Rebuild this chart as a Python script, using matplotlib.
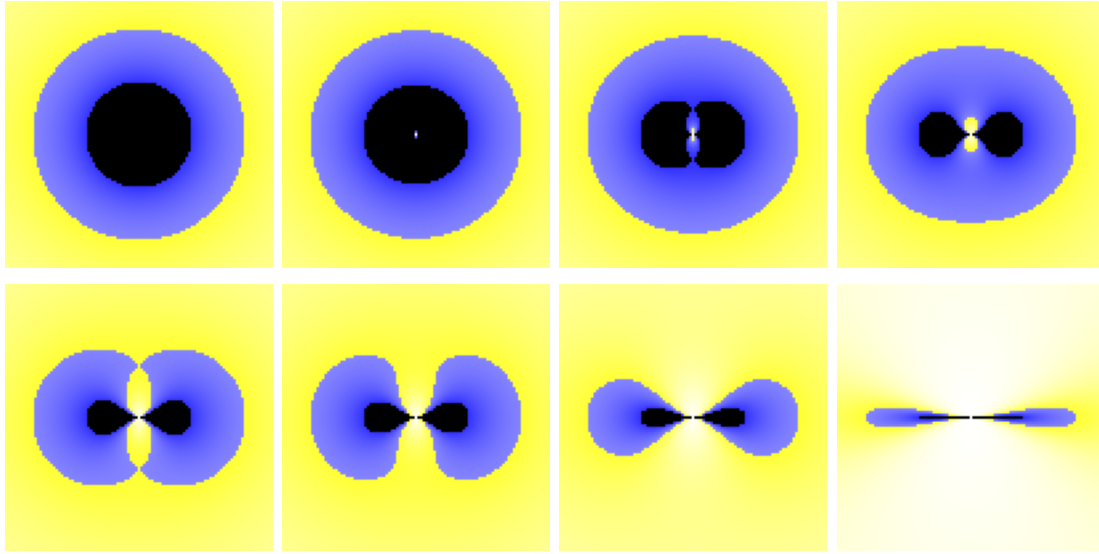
import numpy as np
import matplotlib
matplotlib.use('Agg')
import matplotlib.pyplot as plt
from matplotlib.colors import LinearSegmentedColormap

# spin parameter a/M for each panel, row by row
spins = [0.0, 0.25, 0.5, 0.75, 1.0, 1.1, 1.8, 7.0]
mass = 1.0
half_width = 2.5
n_grid = 101

# -g_tt below 0 is blue (ergoregion), below -1 black, above 0 yellow -> white
cdict = {
    'red':   [(0.0, 0.2, 0.2), (0.5, 0.52, 1.0), (1.0, 1.0, 1.0)],
    'green': [(0.0, 0.2, 0.2), (0.5, 0.52, 1.0), (1.0, 1.0, 1.0)],
    'blue':  [(0.0, 1.0, 1.0), (0.5, 1.0, 0.2), (1.0, 1.0, 1.0)],
}
cmap = LinearSegmentedColormap('ergo', cdict, N=512)
cmap.set_under('black')
cmap.set_bad('white')


def minus_gtt(a):
    xs = np.linspace(-half_width, half_width, n_grid)
    x, z = np.meshgrid(xs, xs)
    r = np.hypot(x, z)
    cos_th = np.cos(np.arctan2(x, z))
    sigma = r**2 + a**2 * cos_th**2
    with np.errstate(divide='ignore', invalid='ignore'):
        f = 1 - 2 * mass * r / sigma
    # r = 0 with a = 0 is the point singularity
    f[sigma == 0] = -1e9
    return f


fig = plt.figure(figsize=(10.99, 5.54), dpi=100)
W, H = 1099.0, 554.0
lefts = [5.0, 282.2, 559.4, 836.6]
tops = [1.0, 284.3]
pw, ph = 267.8, 266.8

for k, a in enumerate(spins):
    row, col = divmod(k, 4)
    ax = fig.add_axes([lefts[col] / W, 1 - (tops[row] + ph) / H, pw / W, ph / H])
    ax.imshow(minus_gtt(a), cmap=cmap, vmin=-1, vmax=1, origin='lower',
              extent=[-half_width, half_width, -half_width, half_width],
              aspect='auto')
    ax.axis('off')

fig.savefig('out.png', dpi=100)
